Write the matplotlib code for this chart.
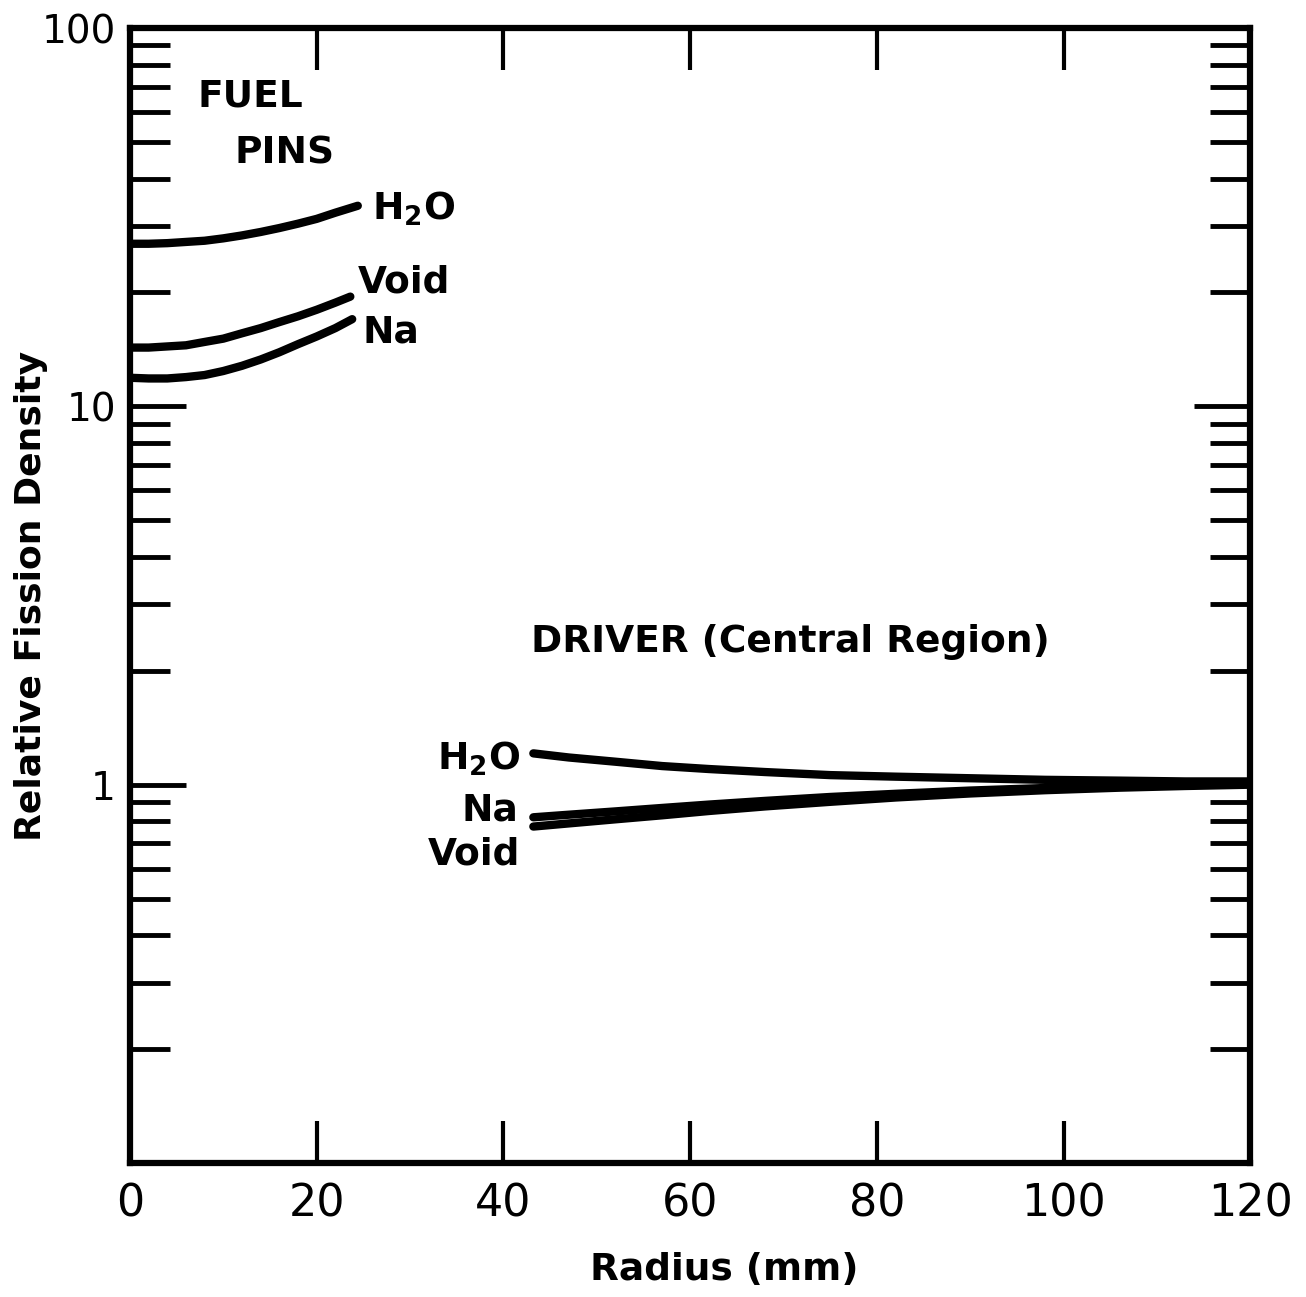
import matplotlib
matplotlib.use("Agg")
import matplotlib.pyplot as plt
from matplotlib.ticker import FixedLocator, NullFormatter, FixedFormatter

# fuel pin curves (radius mm, relative fission density)
fuel_x_h2o = [0, 2, 4, 6, 8, 10, 12, 14, 16, 18, 20, 22, 24.4]
fuel_h2o = [26.9, 26.9, 27.0, 27.2, 27.4, 27.8, 28.3, 28.9, 29.6, 30.4, 31.3, 32.5, 33.9]
fuel_x_void = [0, 2, 4, 6, 8, 10, 12, 14, 16, 18, 20, 22, 23.6]
fuel_void = [14.3, 14.3, 14.4, 14.5, 14.8, 15.1, 15.6, 16.1, 16.7, 17.3, 18.0, 18.8, 19.5]
fuel_x_na = [0, 2, 4, 6, 8, 10, 12, 14, 16, 18, 20, 22, 23.8]
fuel_na = [11.9, 11.85, 11.85, 11.95, 12.1, 12.4, 12.8, 13.3, 13.9, 14.6, 15.3, 16.1, 17.0]

# driver (central region) curves
drv_x = [43.2, 47, 52, 57, 62, 68, 75, 82, 90, 98, 106, 113, 120]
drv_h2o = [1.21, 1.18, 1.15, 1.12, 1.10, 1.08, 1.06, 1.05, 1.04, 1.03, 1.025, 1.02, 1.02]
drv_na = [0.82, 0.833, 0.85, 0.868, 0.886, 0.906, 0.928, 0.946, 0.965, 0.98, 0.993, 1.0, 1.006]
drv_void = [0.775, 0.79, 0.81, 0.83, 0.852, 0.876, 0.901, 0.925, 0.948, 0.967, 0.982, 0.992, 1.0]

x_ticks = [0, 20, 40, 60, 80, 100, 120]
y_major = [1, 10, 100]
y_major_labels = ["1", "10", "100"]

plt.rcParams['font.family'] = ['DejaVu Sans']
plt.rcParams['mathtext.fontset'] = 'dejavusans'
plt.rcParams['mathtext.default'] = 'bf'

fig = plt.figure(figsize=(13.06, 12.97), dpi=100)
ax = fig.add_axes([0.0995, 0.1033, 0.858, 0.8751])

lw = 6
for xs, ys in [(fuel_x_h2o, fuel_h2o), (fuel_x_void, fuel_void), (fuel_x_na, fuel_na),
               (drv_x, drv_h2o), (drv_x, drv_na), (drv_x, drv_void)]:
    ax.plot(xs, ys, color='black', lw=lw, solid_capstyle='round', solid_joinstyle='round')

ax.set_yscale('log')
ax.set_xlim(0, 120)
ax.set_ylim(0.1, 100)

for s in ax.spines.values():
    s.set_linewidth(4.5)

ax.xaxis.set_major_locator(FixedLocator(x_ticks))
ax.tick_params(axis='x', which='major', direction='in', length=30, width=3,
               top=True, bottom=True, labelsize=32, pad=14)
ax.xaxis.set_minor_locator(FixedLocator([]))

ax.yaxis.set_major_locator(FixedLocator(y_major))
ax.yaxis.set_major_formatter(FixedFormatter(y_major_labels))
minors = [m * 10.0 ** e for e in (-1, 0, 1) for m in range(2, 10)]
ax.yaxis.set_minor_locator(FixedLocator(minors))
ax.yaxis.set_minor_formatter(NullFormatter())
ax.tick_params(axis='y', which='major', direction='in', length=40, width=3.5,
               left=True, right=True, labelsize=28, pad=10)
ax.tick_params(axis='y', which='minor', direction='in', length=29, width=3.5,
               left=True, right=True)

ax.set_xlabel("Radius (mm)", fontsize=27, fontweight='bold')
ax.set_ylabel("Relative Fission Density", fontsize=26, fontweight='bold')
ax.xaxis.set_label_coords(0.53, -0.094)
ax.yaxis.set_label_coords(-0.088, 0.5)
ax.xaxis.label.set_va('center')
ax.yaxis.label.set_va('center')

tk = dict(fontsize=27, fontweight='bold', va='center')
ax.text(7.2, 66, "FUEL", ha='left', **tk)
ax.text(11.2, 46.7, "PINS", ha='left', **tk)
ax.text(25.9, 33.3, r"H$_2$O", ha='left', **tk)
ax.text(24.4, 21.3, "Void", ha='left', **tk)
ax.text(24.9, 15.7, "Na", ha='left', **tk)

ax.text(42.9, 2.38, "DRIVER (Central Region)", ha='left', **tk)
ax.text(41.8, 1.17, r"H$_2$O", ha='right', **tk)
ax.text(41.6, 0.853, "Na", ha='right', **tk)
ax.text(41.8, 0.655, "Void", ha='right', **tk)

fig.savefig("out.png", dpi=100)
